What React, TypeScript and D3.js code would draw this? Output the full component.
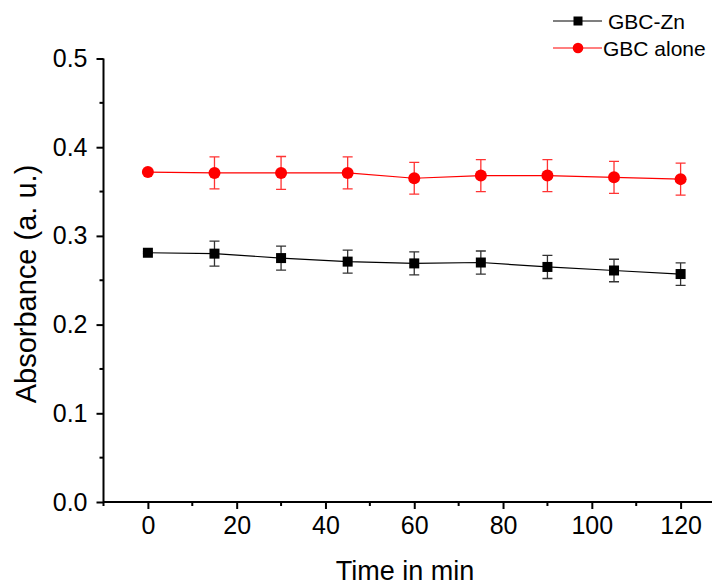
import React, { useEffect, useRef } from 'react';
import * as d3 from 'd3';

// time points (min)
const times = [0, 15, 30, 45, 60, 75, 90, 105, 120];
// GBC-Zn absorbance and error
const znValues = [0.281, 0.280, 0.275, 0.271, 0.269, 0.270, 0.265, 0.261, 0.257];
const znErrors = [0.001, 0.014, 0.0135, 0.013, 0.013, 0.013, 0.013, 0.0127, 0.0127];
// GBC alone absorbance and error
const aloneValues = [0.372, 0.371, 0.371, 0.371, 0.365, 0.368, 0.368, 0.366, 0.364];
const aloneErrors = [0.001, 0.018, 0.0185, 0.018, 0.018, 0.018, 0.018, 0.018, 0.018];

const yTicks = [0.0, 0.1, 0.2, 0.3, 0.4, 0.5];
const xTicks = [0, 20, 40, 60, 80, 100, 120];

const W = 712;
const H = 587;
const FONT = "'Liberation Sans', Arial, sans-serif";

const App = () => {
    const ref = useRef<SVGSVGElement>(null);

    useEffect(() => {
        const svg = d3.select(ref.current);
        svg.selectAll('*').remove();

        // the x axis runs past the right edge of the picture (cropped)
        const x = d3.scaleLinear().domain([-10, 130]).range([103.5, 725]);
        const y = d3.scaleLinear().domain([0, 0.5]).range([502, 58.5]);

        // axes
        const xAxis = d3.axisBottom(x)
            .tickValues(xTicks)
            .tickSize(7)
            .tickPadding(7)
            .tickFormat(d3.format('d'));
        const gx = svg.append('g')
            .attr('transform', `translate(0,${y(0)})`)
            .call(xAxis);
        gx.select('.domain').attr('stroke-width', 2).attr('d', `M${x(-10)},0H${x(130)}`);
        gx.selectAll('.tick line').attr('stroke-width', 2);
        gx.selectAll('text').attr('font-family', FONT).attr('font-size', 25).attr('fill', '#000');
        // minor x ticks
        gx.selectAll('.minor')
            .data(d3.range(-10, 131, 20))
            .enter()
            .append('line')
            .attr('class', 'minor')
            .attr('x1', (d) => x(d))
            .attr('x2', (d) => x(d))
            .attr('y1', 0)
            .attr('y2', 4)
            .attr('stroke', '#000')
            .attr('stroke-width', 2);

        const yAxis = d3.axisLeft(y)
            .tickValues(yTicks)
            .tickSize(7)
            .tickPadding(9)
            .tickFormat(d3.format('.1f'));
        const gy = svg.append('g')
            .attr('transform', `translate(${x(-10)},0)`)
            .call(yAxis);
        gy.select('.domain').attr('stroke-width', 2).attr('d', `M0,${y(0)}V${y(0.5)}`);
        gy.selectAll('.tick line').attr('stroke-width', 2);
        gy.selectAll('text').attr('font-family', FONT).attr('font-size', 25).attr('fill', '#000');
        gy.selectAll('.minor')
            .data([0.05, 0.15, 0.25, 0.35, 0.45])
            .enter()
            .append('line')
            .attr('class', 'minor')
            .attr('x1', 0)
            .attr('x2', -4)
            .attr('y1', (d) => y(d))
            .attr('y2', (d) => y(d))
            .attr('stroke', '#000')
            .attr('stroke-width', 2);

        // axis titles
        svg.append('text')
            .attr('x', 405)
            .attr('y', 580)
            .attr('text-anchor', 'middle')
            .attr('font-family', FONT)
            .attr('font-size', 27)
            .text('Time in min');
        svg.append('text')
            .attr('transform', `translate(36,284) rotate(-90)`)
            .attr('text-anchor', 'middle')
            .attr('font-family', FONT)
            .attr('font-size', 29)
            .text('Absorbance (a. u.)');

        const line = d3.line<number>()
            .x((d, i) => x(times[i]))
            .y((d) => y(d));

        const drawSeries = (values: number[], errors: number[], color: string, errColor: string, shape: string) => {
            const g = svg.append('g');
            g.append('path')
                .datum(values)
                .attr('d', line)
                .attr('fill', 'none')
                .attr('stroke', color)
                .attr('stroke-width', 1.2);
            // error bars
            values.forEach((v, i) => {
                const cx = x(times[i]);
                const top = y(v + errors[i]);
                const bot = y(v - errors[i]);
                g.append('path')
                    .attr('d', `M${cx},${top}V${bot}M${cx - 5},${top}H${cx + 5}M${cx - 5},${bot}H${cx + 5}`)
                    .attr('stroke', errColor)
                    .attr('stroke-width', 1.3)
                    .attr('fill', 'none');
            });
            if (shape === 'square') {
                g.selectAll('rect.pt')
                    .data(values)
                    .enter()
                    .append('rect')
                    .attr('x', (d, i) => x(times[i]) - 5)
                    .attr('y', (d) => y(d) - 5)
                    .attr('width', 10)
                    .attr('height', 10)
                    .attr('fill', color);
            } else {
                g.selectAll('circle.pt')
                    .data(values)
                    .enter()
                    .append('circle')
                    .attr('cx', (d, i) => x(times[i]))
                    .attr('cy', (d) => y(d))
                    .attr('r', 6)
                    .attr('fill', color);
            }
        };

        drawSeries(znValues, znErrors, '#000', '#333', 'square');
        drawSeries(aloneValues, aloneErrors, '#ff0000', '#ff3333', 'circle');

        // legend
        const legend = svg.append('g');
        const items = [
            { label: 'GBC-Zn', color: '#000', shape: 'square', y: 21, tx: 608 },
            { label: 'GBC alone', color: '#ff0000', shape: 'circle', y: 48, tx: 603 },
        ];
        items.forEach((it) => {
            legend.append('line')
                .attr('x1', 553)
                .attr('x2', 602)
                .attr('y1', it.y)
                .attr('y2', it.y)
                .attr('stroke', it.color)
                .attr('stroke-width', 1.2);
            if (it.shape === 'square') {
                legend.append('rect')
                    .attr('x', 573.5)
                    .attr('y', it.y - 4.5)
                    .attr('width', 9)
                    .attr('height', 9)
                    .attr('fill', it.color);
            } else {
                legend.append('circle')
                    .attr('cx', 578)
                    .attr('cy', it.y)
                    .attr('r', 5.3)
                    .attr('fill', it.color);
            }
            legend.append('text')
                .attr('x', it.tx)
                .attr('y', it.y + 7.5)
                .attr('font-family', FONT)
                .attr('font-size', 21)
                .text(it.label);
        });
    }, []);

    return (
        <svg
            ref={ref}
            width={W}
            height={H}
            style={{ position: 'absolute', left: 0, top: 0, background: '#fff' }}
        />
    );
};

export default App;
